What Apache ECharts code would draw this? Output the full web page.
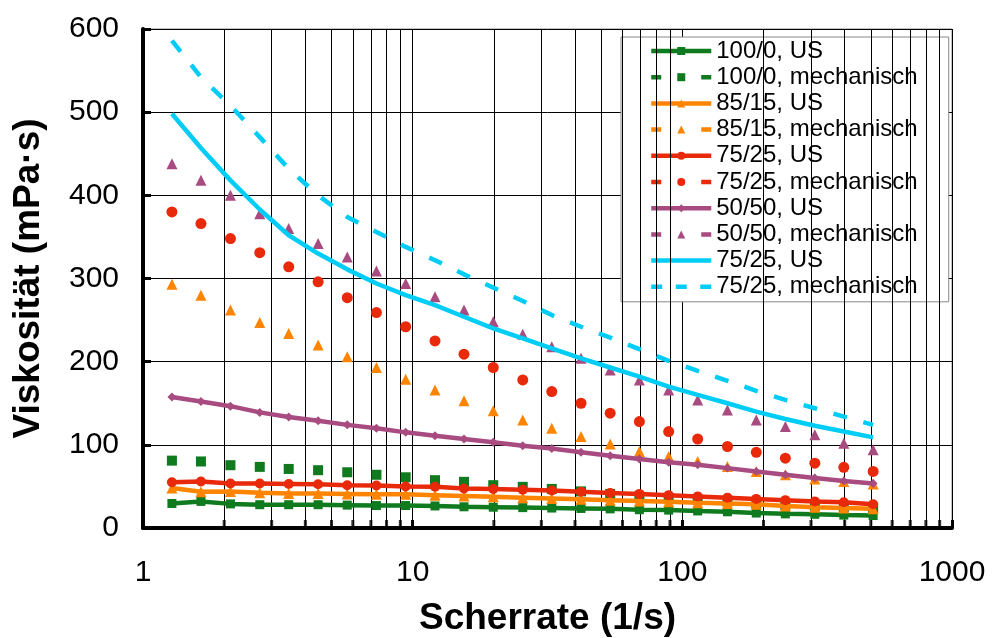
<!DOCTYPE html>
<html>
<head>
<meta charset="utf-8">
<script src="https://cdn.jsdelivr.net/npm/echarts@6/dist/echarts.min.js"></script>
<style>html,body{margin:0;padding:0;background:#fff}#c{width:993px;height:638px}</style>
</head>
<body>
<div id="c"></div>
<script>
// Shear rate (1/s) of the measured points
var shearRate = [1.28, 1.64, 2.11, 2.71, 3.47, 4.46, 5.72, 7.34, 9.42, 12.1, 15.5, 19.9, 25.6, 32.8, 42.1, 54.0, 69.3, 89.0, 114, 147, 188, 241, 310, 397, 510];

// Viscosity (mPa·s)
var v100_0_US   = [29.5, 32, 29, 28, 28, 28, 27.5, 27, 27, 26.5, 25.5, 25, 24.5, 24, 23.5, 23, 22, 21.5, 20.5, 19.5, 18, 17, 16.5, 15.5, 15];
var v100_0_mech = [81, 80, 75.5, 73.5, 71, 69.5, 67, 64, 61, 57.5, 55.5, 51.5, 49.5, 47, 44, 41, 38, 36, 34, 32, 30, 28, 27, 25.5, 24];
var v85_15_US   = [48, 43.5, 44, 42.5, 41.5, 41.5, 41, 40.5, 40.5, 39.5, 38.5, 37.5, 36.5, 35.5, 34.5, 33.5, 32.5, 31.5, 30.5, 29.5, 28.5, 26.5, 25, 24, 23];
var v85_15_mech = [293, 280, 262, 247, 234, 220, 206, 193, 179, 166, 153, 141, 130, 120, 110, 101, 92, 86, 80, 74, 68, 64, 59, 56, 53];
var v75_25_US   = [55, 56, 53.5, 53.5, 53, 52.5, 51.5, 51, 50, 49.5, 47.5, 47, 46, 45, 43.5, 42, 41, 39.5, 38, 36.5, 35, 33.5, 32, 31, 28.5];
var v75_25_mech = [380, 366, 348, 331, 314, 296, 277, 259, 242, 225, 209, 193, 178, 164, 150, 138, 128, 116, 107, 98, 91, 84, 78, 73, 68];
var v50_50_US   = [157.5, 152, 146.5, 139, 133.5, 129, 124, 120, 115, 111, 107, 103, 99, 95.5, 91, 87, 83, 79, 76, 72, 68, 64, 60, 56.5, 53.5];
var v50_50_mech = [438, 418, 400, 378, 360, 342, 326, 309, 294, 278, 262, 248, 233, 218, 204, 190, 178, 166, 154, 142, 130, 122, 112, 102, 94];
var v75_25b_US  = [498, 457, 418, 383, 352, 330, 311, 294, 280, 268, 254, 240, 228, 216, 204, 193, 182, 170, 160, 150, 140, 131, 123, 116, 109];
var v75_25b_mech= [586, 542, 508, 470, 432, 400, 374, 356, 338, 322, 305, 289, 273, 256, 242, 229, 215, 201, 189, 177, 165, 154, 144, 134, 124];

// Legend labels
var legendLabels = ["100/0, US", "100/0, mechanisch", "85/15, US", "85/15, mechanisch", "75/25, US", "75/25, mechanisch", "50/50, US", "50/50, mechanisch", "75/25, US", "75/25, mechanisch"];

// Axis ticks
var xMinorTicks = [2,3,4,5,6,7,8,9,20,30,40,50,60,70,80,90,200,300,400,500,600,700,800,900];

var FONT = "Liberation Sans, Arial, Helvetica, sans-serif";
var colors = ["#0f7a1e", "#0f7a1e", "#ff8400", "#ff8400", "#e8290a", "#e8290a", "#a84b80", "#a84b80", "#00cdf5", "#00cdf5"];
var seriesData = [v100_0_US, v100_0_mech, v85_15_US, v85_15_mech, v75_25_US, v75_25_mech, v50_50_US, v50_50_mech, v75_25b_US, v75_25b_mech];
var symbols = ["rect", "rect", "triangle", "triangle", "circle", "circle", "diamond", "triangle", "none", "none"];
var symSizes = [9, 10, 11, 11, 10, 11, 9, 11, 0, 0];

function pairs(arr) { return arr.map(function (v, i) { return [shearRate[i], v]; }); }

var series = [];
var legendData = [];
seriesData.forEach(function (d, i) {
  var mech = (i % 2 === 1);
  var lineStyle, legLine;
  if (i === 9) { lineStyle = { color: colors[i], width: 4.5, type: [14, 17] }; legLine = { color: colors[i], width: 4.5, type: [11, 13.5], opacity: 1 }; }
  else if (mech) { lineStyle = { color: colors[i], width: 4, opacity: 0 }; legLine = { color: colors[i], width: 4.5, type: [10, 40], opacity: 1 }; }
  else { lineStyle = { color: colors[i], width: 4.5 }; legLine = { color: colors[i], width: 4.5, type: "solid", opacity: 1 }; }
  series.push({
    name: "s" + i,
    type: "line",
    data: pairs(d),
    symbol: symbols[i],
    symbolSize: symSizes[i],
    showSymbol: symbols[i] !== "none",
    itemStyle: { color: colors[i] },
    lineStyle: lineStyle,
    smooth: false,
    z: 5 + i,
    silent: true
  });
  var item = { name: "s" + i, lineStyle: legLine };
  if (symbols[i] === "none") item.itemStyle = { opacity: 0 };
  legendData.push(item);
});

// minor vertical grid lines
series.push({
  name: "grid",
  type: "line",
  data: [],
  silent: true,
  z: 1,
  markLine: {
    silent: true,
    symbol: ["none", "none"],
    label: { show: false },
    lineStyle: { color: "#000", width: 1, type: "solid" },
    data: xMinorTicks.map(function (v) { return { xAxis: v }; })
  }
});
// minor ticks on the bottom axis
series.push({
  name: "ticks",
  type: "scatter",
  data: xMinorTicks.map(function (v) { return [v, 0]; }),
  symbol: "rect",
  symbolSize: [3, 8],
  symbolOffset: [0, -4],
  itemStyle: { color: "#000" },
  silent: true,
  z: 20
});

var chart = echarts.init(document.getElementById("c"), null, { renderer: "canvas" });
chart.setOption({
  animation: false,
  backgroundColor: "#fff",
  grid: { left: 143, right: 41, top: 29, bottom: 110, show: true, borderColor: "#888", borderWidth: 1, containLabel: false, outerBoundsMode: "none" },
  xAxis: {
    type: "log", logBase: 10, min: 1, max: 1000,
    name: "Scherrate (1/s)", nameLocation: "middle", nameGap: 72,
    nameTextStyle: { fontFamily: FONT, fontWeight: "bold", fontSize: 37, color: "#000" },
    axisLine: { show: true, onZero: false, lineStyle: { color: "#000", width: 4 } },
    axisTick: { show: true, inside: true, length: 8, lineStyle: { color: "#000", width: 3 } },
    axisLabel: { fontFamily: FONT, fontSize: 30, color: "#000", margin: 30, formatter: function (v) { return String(Math.round(v)); } },
    splitLine: { show: true, lineStyle: { color: "#000", width: 1 } },
    minorTick: { show: false }, minorSplitLine: { show: false }
  },
  yAxis: {
    type: "value", min: 0, max: 600, interval: 100,
    name: "Viskosität (mPa·s)", nameLocation: "middle", nameGap: 96,
    nameTextStyle: { fontFamily: FONT, fontWeight: "bold", fontSize: 37, color: "#000" },
    axisLine: { show: true, lineStyle: { color: "#000", width: 4 } },
    axisTick: { show: true, inside: true, length: 8, lineStyle: { color: "#000", width: 3 } },
    axisLabel: { fontFamily: FONT, fontSize: 30, color: "#000", margin: 24 },
    splitLine: { show: true, lineStyle: { color: "#000", width: 1 } }
  },
  legend: {
    show: true,
    orient: "vertical",
    left: 621, top: 37,
    padding: [2, 31, 3, 28],
    itemGap: 2.2,
    itemWidth: 60, itemHeight: 10,
    backgroundColor: "#fff",
    borderColor: "#888", borderWidth: 1, borderRadius: 0,
    data: legendData,
    formatter: function (name) { return legendLabels[parseInt(name.slice(1), 10)]; },
    textStyle: { fontFamily: FONT, fontSize: 24, color: "#000", lineHeight: 24 },
    selectedMode: false
  },
  series: series
});
</script>
</body>
</html>
